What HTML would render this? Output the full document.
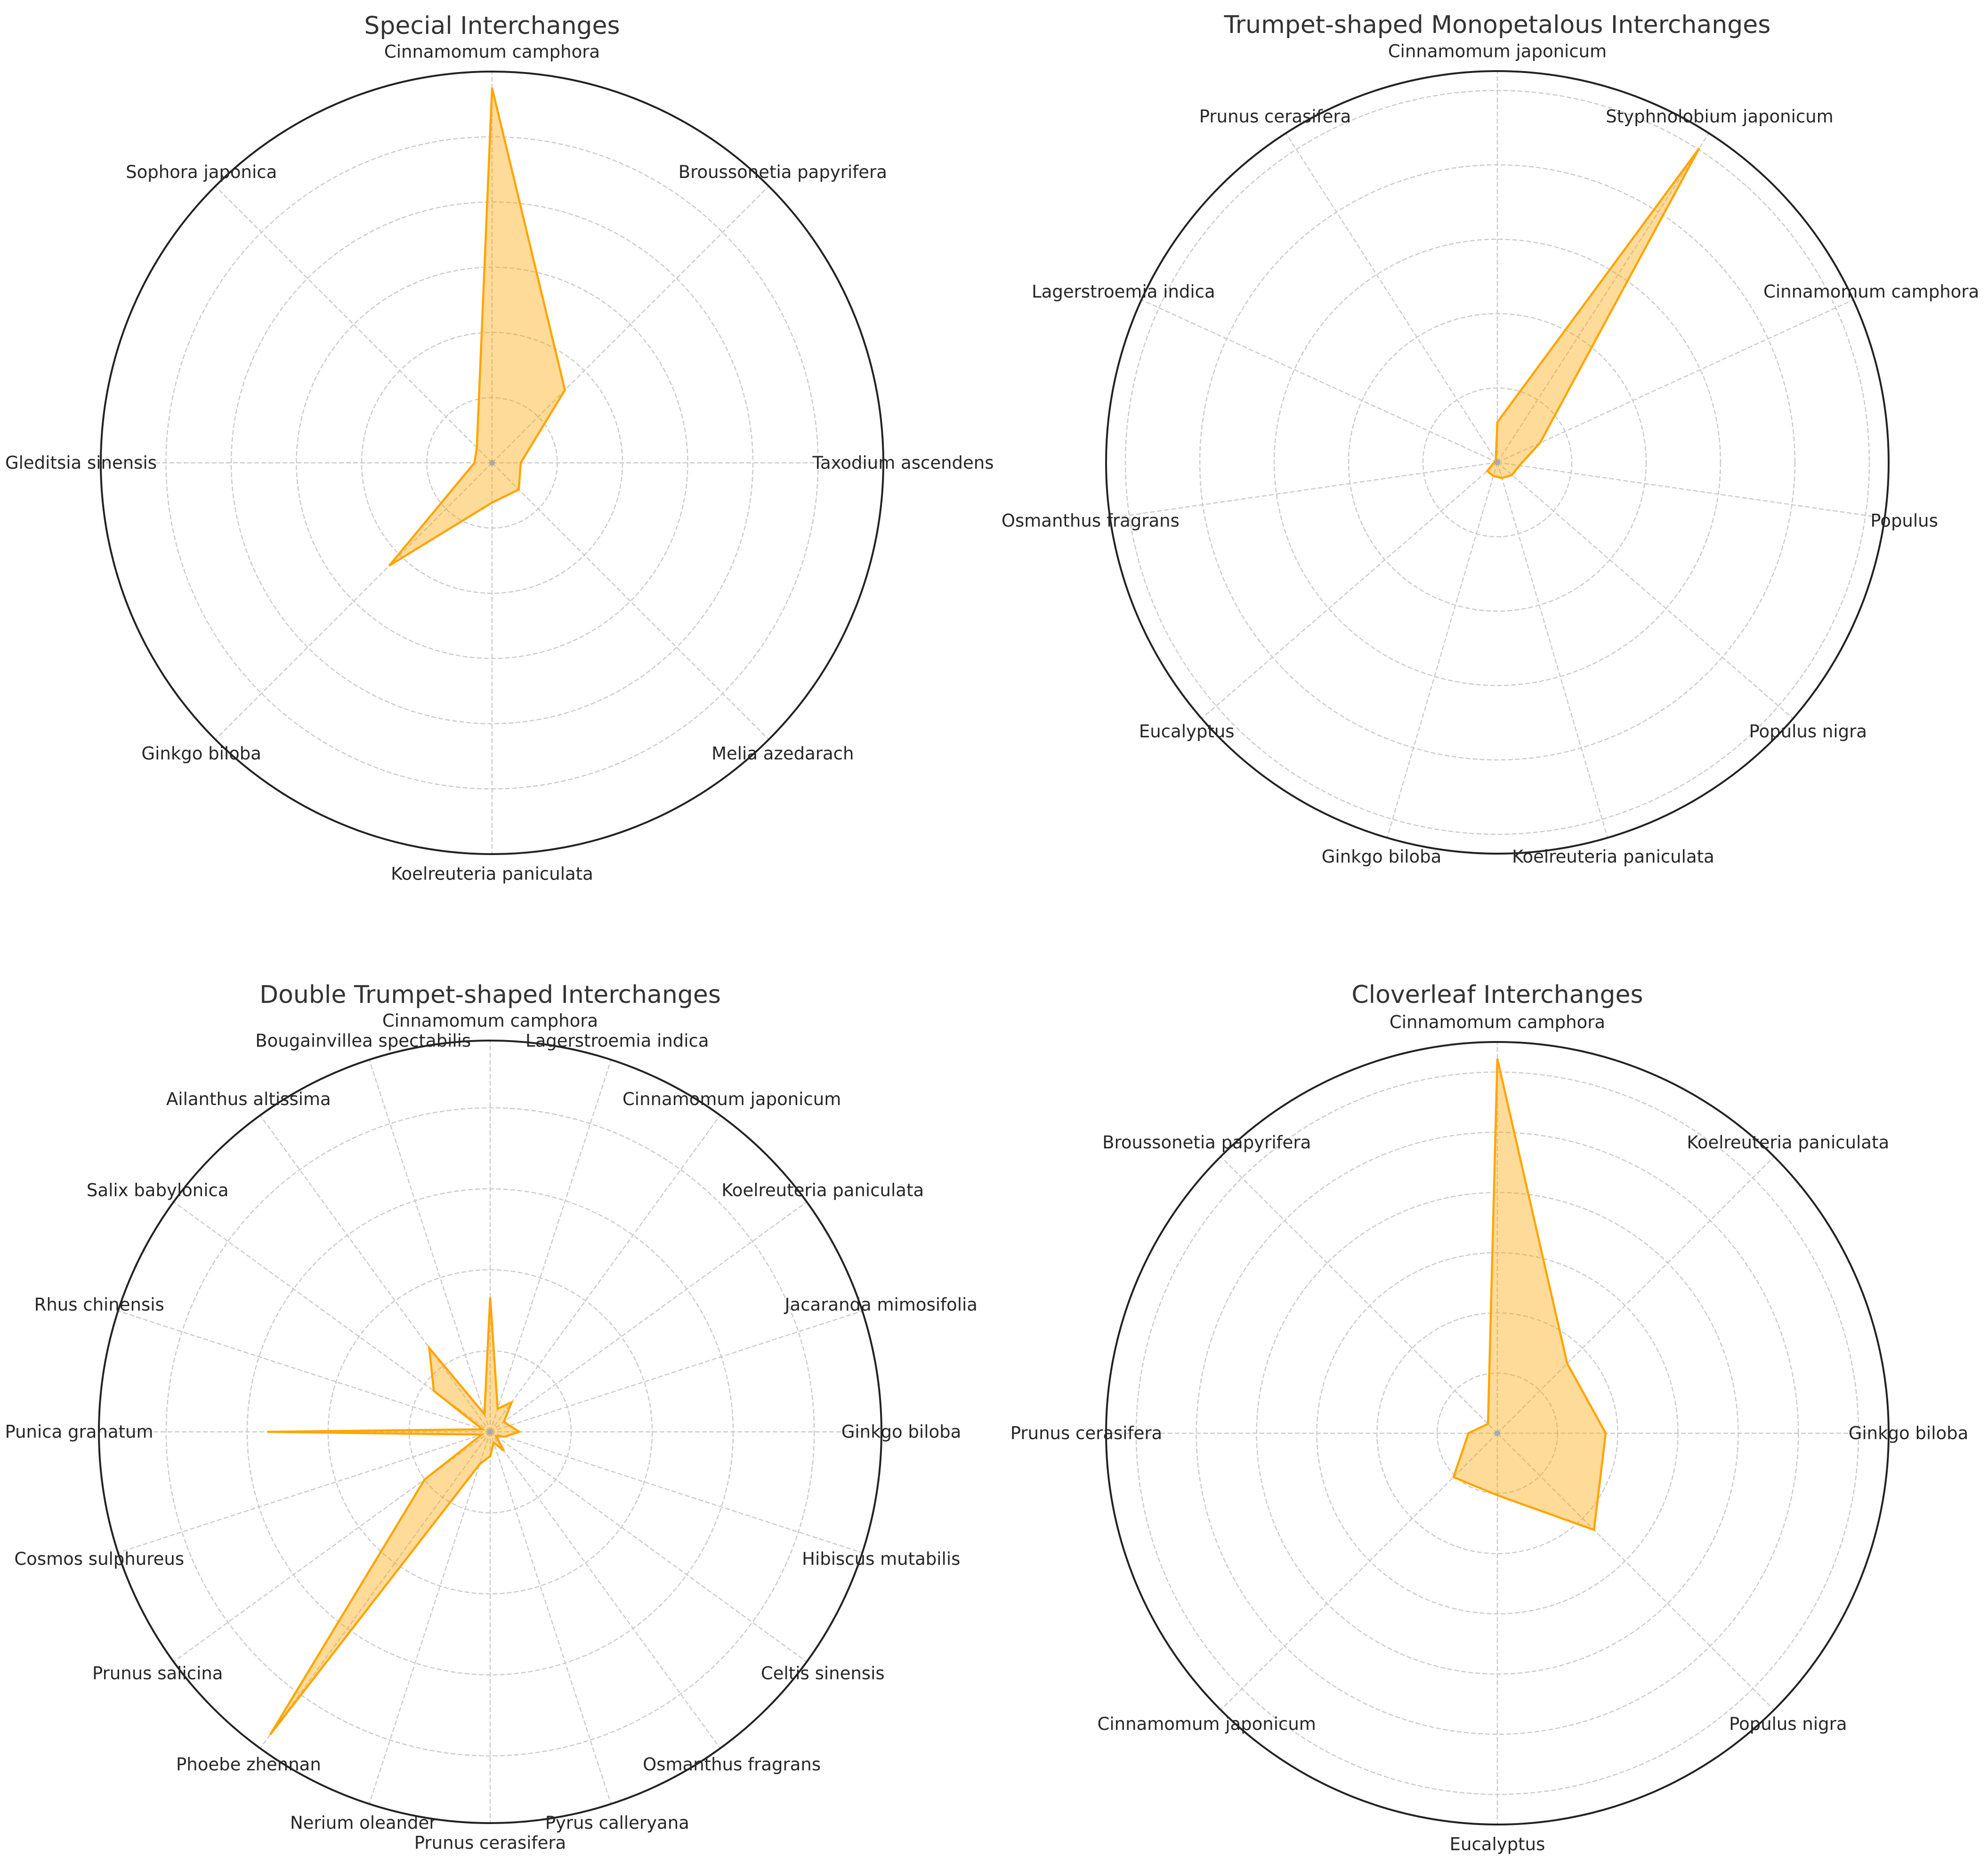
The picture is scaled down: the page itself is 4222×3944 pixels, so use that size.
<!DOCTYPE html>
<html><head><meta charset="utf-8"><style>
html,body{margin:0;padding:0;background:#fff;}
svg{display:block;font-family:"DejaVu Sans","Liberation Sans",sans-serif;}
</style></head><body>
<svg id="fig" width="4222" height="3944" viewBox="0 0 4222 3944" xmlns="http://www.w3.org/2000/svg">
<rect width="4222" height="3944" fill="#fff"/>
</svg>
<script>
const cats1 = ["Cinnamomum camphora","Broussonetia papyrifera","Taxodium ascendens","Melia azedarach","Koelreuteria paniculata","Ginkgo biloba","Gleditsia sinensis","Sophora japonica"];
const vals1 = [5.75,1.58,0.44,0.58,0.61,2.23,0.27,0.33];
const cats2 = ["Cinnamomum japonicum","Styphnolobium japonicum","Cinnamomum camphora","Populus","Populus nigra","Koelreuteria paniculata","Ginkgo biloba","Eucalyptus","Osmanthus fragrans","Lagerstroemia indica","Prunus cerasifera"];
const vals2 = [0.54,5.02,0.63,0.30,0.26,0.22,0.19,0.18,0.05,0.03,0.04];
const cats3 = ["Cinnamomum camphora","Lagerstroemia indica","Cinnamomum japonicum","Koelreuteria paniculata","Jacaranda mimosifolia","Ginkgo biloba","Hibiscus mutabilis","Celtis sinensis","Osmanthus fragrans","Pyrus calleryana","Prunus cerasifera","Nerium oleander","Phoebe zhennan","Prunus salicina","Cosmos sulphureus","Punica granatum","Rhus chinensis","Salix babylonica","Ailanthus altissima","Bougainvillea spectabilis"];
const vals3 = [1.66,0.30,0.45,0.21,0.25,0.36,0.19,0.09,0.29,0.14,0.30,0.42,4.62,1.00,0.11,2.75,0.10,0.86,1.28,0.23];
const cats4 = ["Cinnamomum camphora","Koelreuteria paniculata","Ginkgo biloba","Populus nigra","Eucalyptus","Cinnamomum japonicum","Prunus cerasifera","Broussonetia papyrifera"];
const vals4 = [6.22,1.64,1.80,2.27,1.03,1.03,0.48,0.22];
const titles = ["Special Interchanges","Trumpet-shaped Monopetalous Interchanges","Double Trumpet-shaped Interchanges","Cloverleaf Interchanges"];
const rmaxs = [6,5.26,4.83,6.5];
const ringTicks = [[1,2,3,4,5],[1,2,3,4,5],[1,2,3,4],[1,2,3,4,5,6]];

const NS = "http://www.w3.org/2000/svg";
const svg = document.getElementById("fig");
const R = 831;
const panels = [
  {cx:1045, cy:983, ty:72, cats:cats1, vals:vals1},
  {cx:3180, cy:982, ty:70, cats:cats2, vals:vals2},
  {cx:1041, cy:3041, ty:2130, cats:cats3, vals:vals3},
  {cx:3180, cy:3044, ty:2130, cats:cats4, vals:vals4}
];
function mk(tag, attrs, parent){
  const e = document.createElementNS(NS, tag);
  for (const k in attrs) e.setAttribute(k, attrs[k]);
  (parent||svg).appendChild(e);
  return e;
}
panels.forEach((p, i) => {
  const g = mk("g", {});
  
  
  const rmax = rmaxs[i];
  const scale = v => v / rmax * R;
  const ang = k => k / p.cats.length * 2 * Math.PI;
  const pt = (k, r) => [p.cx + r * Math.sin(ang(k)), p.cy - r * Math.cos(ang(k))];
  ringTicks[i].forEach(t => {
    const c = mk("circle", {cx:p.cx, cy:p.cy, r:scale(t), fill:"none", stroke:"#cccccc", "stroke-width":2.5, "stroke-dasharray":"10 5"}, g);
    
    
  });
  p.cats.forEach((c, k) => {
    const e = pt(k, R);
    const l = mk("line", {x1:p.cx, y1:p.cy, x2:e[0], y2:e[1], stroke:"#cccccc", "stroke-width":2.5, "stroke-dasharray":"10 5"}, g);
    
    
  });
  const o = mk("circle", {cx:p.cx, cy:p.cy, r:R, fill:"none", stroke:"#222", "stroke-width":4}, g);
  
  
  const pts = p.vals.map((v, k) => pt(k, scale(v)).join(",")).join(" ");
  const poly = mk("polygon", {points:pts, fill:"#FFA500", "fill-opacity":0.4, stroke:"#FFA500", "stroke-width":4.5, "stroke-linejoin":"miter"}, g);
  
  
  const dot = mk("circle", {cx:p.cx, cy:p.cy, r:6, fill:"#aaaaaa"}, g);
  
  
  p.cats.forEach((c, k) => {
    const q = pt(k, R + 42);
    const t = mk("text", {x:q[0], y:q[1], "text-anchor":"middle", "dominant-baseline":"central", "font-size":37, fill:"#262626"}, g);
    t.textContent = c;
    
    
  });
  const tt = mk("text", {x:p.cx, y:p.ty, "text-anchor":"middle", "font-size":52, fill:"#333333"}, g);
  tt.textContent = titles[i];
  
  
});
</script>
</body></html>
